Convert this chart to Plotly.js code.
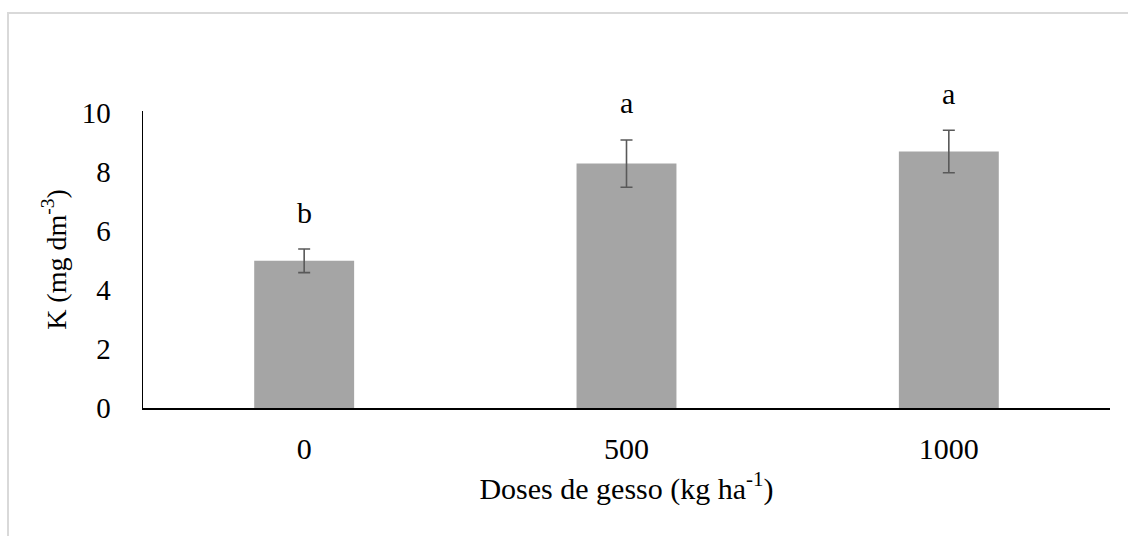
<!DOCTYPE html>
<html>
<head>
<meta charset="utf-8">
<script src="https://cdn.plot.ly/plotly-3.0.1.min.js"></script>
<style>
  html, body { margin: 0; padding: 0; background: #fff; }
  #wrap { position: relative; width: 1128px; height: 536px; }
  #frame { position: absolute; left: 7px; top: 12px; right: -4px; bottom: -4px;
           border-left: 2px solid #d9d9d9; border-top: 2px solid #d9d9d9; pointer-events: none; }
  #chart { position: absolute; left: 0; top: 0; width: 1128px; height: 536px; }
</style>
</head>
<body>
<div id="wrap">
  <div id="chart"></div>
  <div id="frame"></div>
</div>
<script>
// Gypsum doses (kg/ha) and soil potassium
const doses = ['0', '500', '1000'];
const kMean = [4.98, 8.27, 8.68];
const kErr = [0.40, 0.80, 0.72];
const letters = ['b', 'a', 'a'];

const serif = 'Liberation Serif';

const trace = {
  type: 'bar',
  x: doses,
  y: kMean,
  width: 0.31,
  marker: { color: '#a5a5a5' },
  error_y: { type: 'data', array: kErr, visible: true, color: '#595959', thickness: 1.6, width: 6 },
  hoverinfo: 'skip'
};

// significance letters sit above each error bar (x given as category index)
const annotations = doses.map((d, i) => ({
  x: i, y: kMean[i] + kErr[i], xref: 'x', yref: 'y',
  text: letters[i], showarrow: false, yanchor: 'middle', yshift: 37,
  font: { family: serif, size: 30, color: '#000' }
}));

const layout = {
  width: 1128, height: 536,
  margin: { l: 143, r: 18, t: 111, b: 128 },
  paper_bgcolor: '#fff', plot_bgcolor: '#fff',
  showlegend: false,
  font: { family: serif, size: 28, color: '#000' },
  xaxis: {
    type: 'category',
    range: [-0.5, 2.5],
    showline: true, linecolor: '#000', linewidth: 2,
    showgrid: false, zeroline: false, ticks: '',
    ticklabelstandoff: 13,
    tickfont: { family: serif, size: 30, color: '#000' },
    title: { text: 'Doses de gesso (kg ha<sup>-1</sup>)', standoff: 14,
             font: { family: serif, size: 30, color: '#000' } }
  },
  yaxis: {
    range: [0, 10.05],
    tickvals: [0, 2, 4, 6, 8, 10],
    showline: true, linecolor: '#000', linewidth: 1.5,
    showgrid: false, zeroline: false, ticks: '',
    ticklabelstandoff: 25,
    tickfont: { family: serif, size: 29, color: '#000' },
    title: { text: 'K (mg dm<sup>-3</sup>)', standoff: 7,
             font: { family: serif, size: 28, color: '#000' } }
  },
  annotations: annotations
};

Plotly.newPlot('chart', [trace], layout, { staticPlot: true, displayModeBar: false });
</script>
</body>
</html>
